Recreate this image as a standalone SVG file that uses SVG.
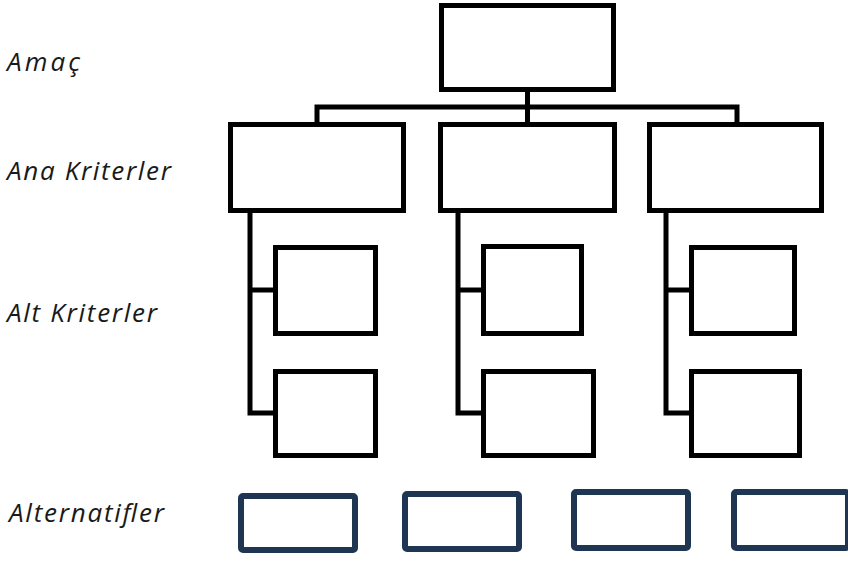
<svg xmlns="http://www.w3.org/2000/svg" width="848" height="561" viewBox="0 0 848 561">
<style>
.box{fill:#fff;stroke:#000;stroke-width:5}
.alt{fill:#fff;stroke:#1f3652;stroke-width:6}
.con{fill:none;stroke:#000;stroke-width:5;stroke-linejoin:miter;stroke-linecap:square}
.lbl{font-family:"Open Sans","Noto Sans",sans-serif;font-style:italic;font-size:26px;fill:#1a1a1a}
</style>
<rect width="848" height="561" fill="#fff"/>
<g id="connectors">
<path class="con" d="M527.5,92 V107 M317,107 H737 M317,107 V122 M527.5,107 V122 M737,107 V122"/>
<path class="con" d="M250,213 V413 H273 M250,290 H273"/>
<path class="con" d="M458,213 V413 H481 M458,290 H481"/>
<path class="con" d="M666,213 V413 H689 M666,290 H689"/>
</g>
<g id="goal"><rect class="box" x="441.5" y="5.5" width="172" height="84"/></g>
<g id="main1"><rect class="box" x="230.5" y="124.5" width="173" height="86"/></g>
<g id="main2"><rect class="box" x="440.5" y="124.5" width="174" height="86"/></g>
<g id="main3"><rect class="box" x="649.5" y="124.5" width="172" height="86"/></g>
<g id="sub1a"><rect class="box" x="275.5" y="247.5" width="100" height="86"/></g>
<g id="sub1b"><rect class="box" x="275.5" y="371.5" width="100" height="84"/></g>
<g id="sub2a"><rect class="box" x="483.5" y="246.5" width="98" height="87"/></g>
<g id="sub2b"><rect class="box" x="483.5" y="371.5" width="110" height="84"/></g>
<g id="sub3a"><rect class="box" x="691.5" y="247.5" width="103" height="86"/></g>
<g id="sub3b"><rect class="box" x="691.5" y="371.5" width="108" height="84"/></g>
<g id="alt1"><rect class="alt" x="241" y="496" width="114" height="54" rx="2"/></g>
<g id="alt2"><rect class="alt" x="405" y="494" width="114" height="55" rx="2"/></g>
<g id="alt3"><rect class="alt" x="574" y="492" width="114" height="56" rx="2"/></g>
<g id="alt4"><rect class="alt" x="734" y="492" width="114" height="56" rx="2"/></g>
<g id="labels">
<text class="lbl" x="7" y="71" textLength="73" lengthAdjust="spacing">Amaç</text>
<text class="lbl" x="7" y="180" textLength="164" lengthAdjust="spacing">Ana Kriterler</text>
<text class="lbl" x="7" y="322" textLength="150" lengthAdjust="spacing">Alt Kriterler</text>
<text class="lbl" x="9" y="522" textLength="155" lengthAdjust="spacing">Alternatifler</text>
</g>
</svg>
